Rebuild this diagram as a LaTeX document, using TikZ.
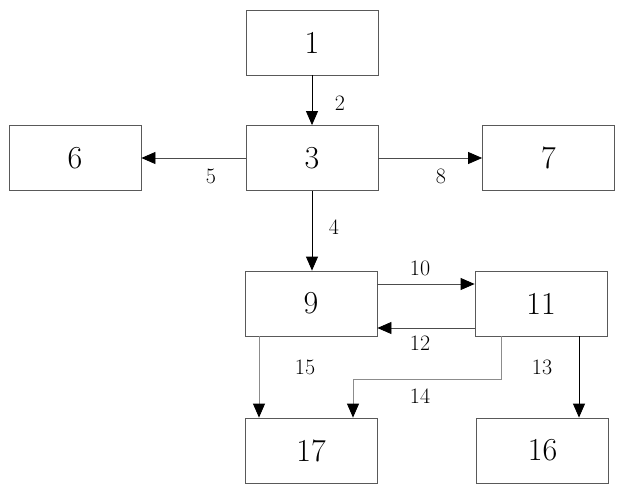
\documentclass[tikz,border=0pt]{standalone}
\usetikzlibrary{arrows.meta}
\begin{document}
\begin{tikzpicture}[x=1pt,y=-1pt,
  box/.style={draw=black!65,line width=0.8pt,minimum width=132pt,minimum height=65pt,inner sep=0pt,font=\fontsize{32}{32}\selectfont},
  lbl/.style={font=\fontsize{22}{22}\selectfont,inner sep=0pt},
  conn/.style={line width=0.8pt,-{Triangle[length=14pt,width=12pt,color=black,fill=black]}},
  gconn/.style={conn,draw=black!45}]
\useasboundingbox (0,0) rectangle (618,489);
\node[box] (n1) at (312,42.5) {1};
\node[box] (n3) at (312,158) {3};
\node[box] (n6) at (75,158) {6};
\node[box] (n7) at (548.5,158) {7};
\node[box] (n9) at (311,303.5) {9};
\node[box] (n11) at (541,303.5) {11};
\node[box] (n17) at (311,450.5) {17};
\node[box] (n16) at (542.5,450.5) {16};
\draw[conn] (n1) -- (n3);
\draw[conn,draw=black!70] (n3) -- (n6);
\draw[conn,draw=black!70] (n3) -- (n7);
\draw[conn] (n3.south -| 312,0) -- (n9.north -| 312,0);
\draw[conn,draw=black!70] (n9.east |- 0,284) -- (n11.west |- 0,284);
\draw[conn,draw=black!70] (n11.west |- 0,328) -- (n9.east |- 0,328);
\draw[gconn] (n9.south -| 259,0) -- (n17.north -| 259,0);
\coordinate (c14) at (501,379);
\draw[gconn] (n11.south -| 501,0) -- (c14) -| (n17.north -| 353,0);
\draw[conn] (n11.south -| 579,0) -- (n16.north -| 579,0);
\node[lbl] (l2) at (340,103) {2};
\node[lbl] (l4) at (334,227) {4};
\node[lbl] (l5) at (211,176) {5};
\node[lbl] (l8) at (441,176) {8};
\node[lbl] (l10) at (420,268) {10};
\node[lbl] (l12) at (420,343) {12};
\node[lbl] (l15) at (305,367) {15};
\node[lbl] (l13) at (542,367) {13};
\node[lbl] (l14) at (420,396) {14};
\end{tikzpicture}
\end{document}
